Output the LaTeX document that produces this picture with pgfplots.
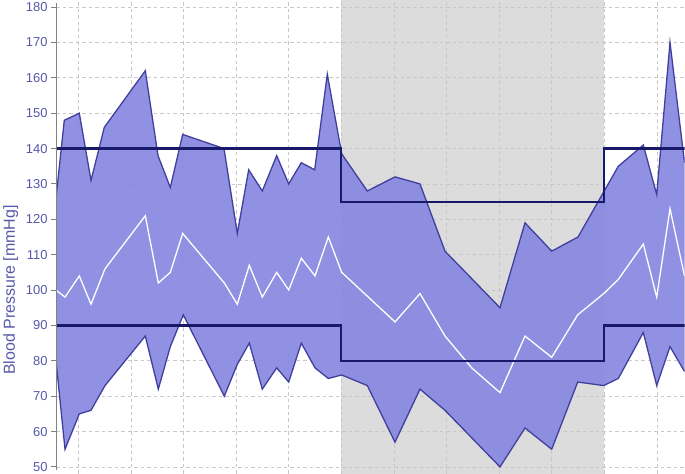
\documentclass[border=0pt]{standalone}
\usepackage{fontspec}
\setmainfont{Liberation Sans}
\usepackage{pgfplots}
\pgfplotsset{compat=1.18}
\usepgfplotslibrary{fillbetween}
\definecolor{bpfill}{RGB}{137,137,226}
\definecolor{bpedge}{RGB}{64,64,156}
\definecolor{thr}{RGB}{25,25,105}
\definecolor{lbl}{RGB}{88,88,170}
\definecolor{bggray}{RGB}{220,220,220}
\definecolor{gridc}{RGB}{200,200,200}
\definecolor{spine}{RGB}{130,130,130}
\begin{document}
\begin{tikzpicture}
\begin{axis}[
  at={(56bp,0bp)}, anchor=south west,
  width=628.5bp, height=474bp, scale only axis,
  xmin=56, xmax=684.5, ymin=48, ymax=182,
  set layers,
  axis line style={draw=none},
  xtick={78.3,130.9,183.5,236.1,288.7,341.3,393.9,446.5,499.1,551.7,604.3,656.9},
  xticklabels={},
  xtick style={draw=none},
  ytick={50,60,...,180},
  ytick pos=left,
  tick align=outside,
  major tick length=5bp,
  ytick style={spine, line width=1bp},
  grid=major,
  major grid style={gridc, dash pattern=on 3.5bp off 3bp, line width=0.8bp},
  /pgf/number format/assume math mode=true,
  yticklabel style={font=\fontsize{13}{15}\selectfont, text=lbl},
  ylabel={Blood Pressure [mmHg]},
  every axis y label/.style={at={(axis description cs:-0.0843,0.388)}, rotate=90, anchor=north, inner sep=0pt, font=\fontsize{16}{18}\selectfont, text=lbl},
]
\addplot[draw=none, fill=bggray, on layer=axis background] coordinates {(341.3,48) (341.3,182) (604.3,182) (604.3,48)} -- cycle;

\addplot[name path=up, draw=bpedge, line width=1.3bp] coordinates {
(56,126) (64.3,148) (79.3,150) (91,131) (104.3,146) (145.3,162) (158,138) (170.3,129)
(182.7,144) (224,140) (237.3,116) (248.7,134) (262.3,128) (276.7,138) (288.7,130)
(301.3,136) (314.7,134) (327.3,161) (341.7,138.5) (367.3,128) (395,132) (420,130)
(445,111) (500,95) (525,119) (551.7,111) (578,115) (618.3,135) (643.3,141)
(656.7,127) (670,170) (684.5,136)};

\addplot[name path=lo, draw=bpedge, line width=1.3bp] coordinates {
(56,80) (65,55) (79.3,65) (91,66) (105,73) (145.3,87) (158.3,72) (170.3,84) (183.3,93)
(224.3,70) (237.3,79) (249.3,85) (262.3,72) (276.7,78) (288.7,74) (301.3,85) (315,78)
(328.3,75) (341.7,76) (367.3,73) (395,57) (420,72) (445,66) (500,50) (525,61)
(551.7,55) (577.7,74) (603.7,73) (618.3,75) (643.3,88) (656.7,73) (670,84) (684.5,77)};

\addplot[bpfill, fill opacity=0.93] fill between[of=up and lo];

\addplot[white, line width=1.3bp] coordinates {
(56,100) (65,98) (79.3,104) (91,96) (105,106) (145.3,121) (158.3,102) (170.3,105)
(182.7,116) (224.3,102) (237.3,96) (249.3,107) (262.3,98) (276.7,105) (288.7,100)
(301.3,109) (315,104) (328.3,115) (341.7,105) (395,91) (420,99) (445,87) (471.7,78)
(500,71) (525,87) (551.7,81) (577.7,93) (603.7,99) (618.3,103) (643.3,113)
(656.7,98) (670,123) (684.5,104)};

\addplot[thr, line width=2.2bp] coordinates {
(56,140) (341.3,140) (341.3,125) (604.3,125) (604.3,140) (684.5,140)};
\addplot[thr, line width=2.2bp] coordinates {
(56,90) (341.3,90) (341.3,80) (604.3,80) (604.3,90) (684.5,90)};

\draw[spine, line width=1.5bp] (rel axis cs:0,0.008) -- (rel axis cs:0,0.993);
\end{axis}
\pgfresetboundingbox
\useasboundingbox (0,0) rectangle (685bp,474bp);
\end{tikzpicture}
\end{document}
